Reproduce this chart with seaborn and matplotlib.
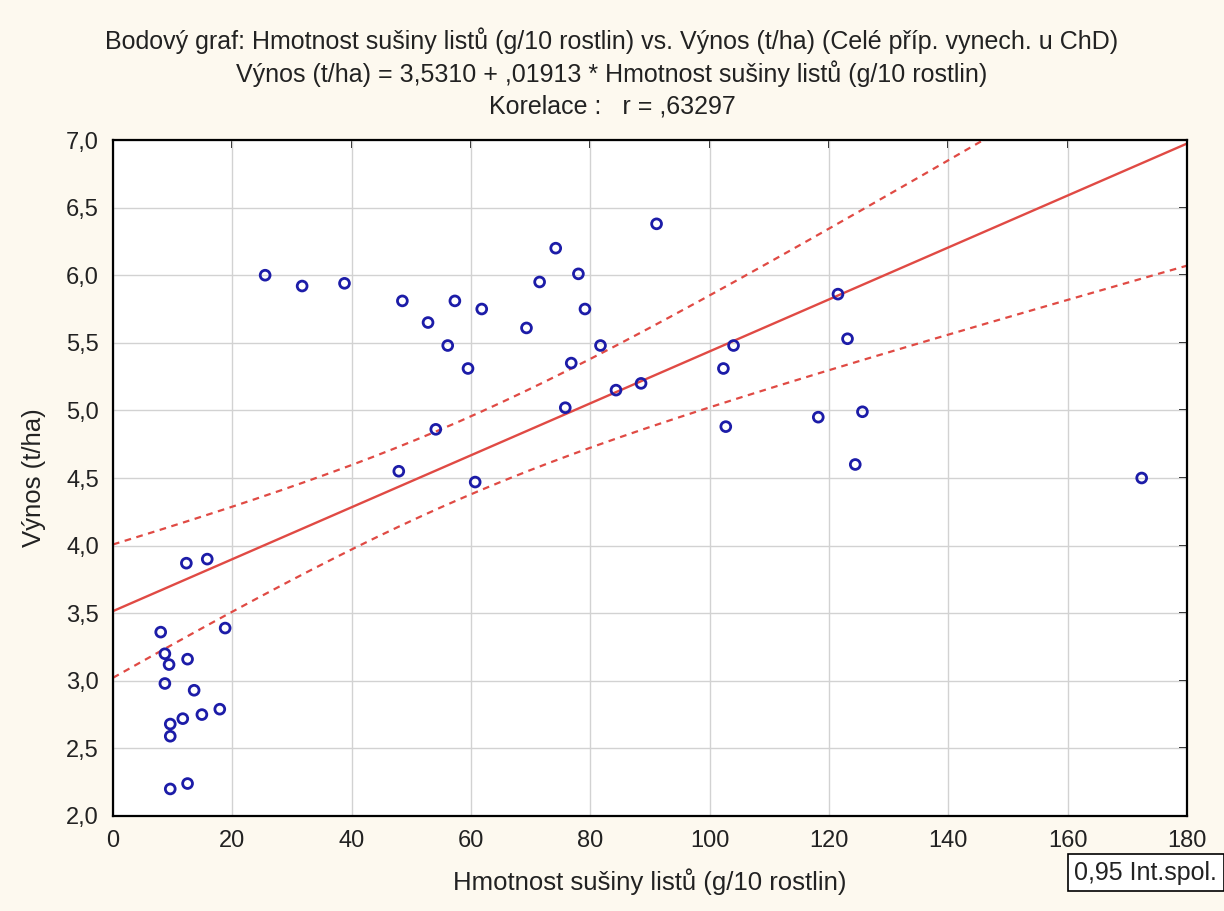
import numpy as np
import pandas as pd
import matplotlib
matplotlib.use("Agg")
import matplotlib.pyplot as plt
import seaborn as sns
from matplotlib.ticker import FuncFormatter

# Hmotnost sušiny listů (g/10 rostlin) a Výnos (t/ha)
hmotnost = [12.3, 15.8, 8.0, 18.8, 8.7, 9.4, 12.5, 8.7, 13.6, 9.6, 9.6, 11.7,
            14.9, 17.9, 9.6, 12.5,
            25.5, 31.7, 38.8, 48.5, 52.8, 57.3, 56.1, 61.8, 59.5, 74.2, 71.5,
            78.0, 79.1, 69.3, 91.1, 81.7, 76.8, 84.3, 88.5, 75.8, 54.1, 47.9,
            60.7,
            102.3, 102.7, 104.0, 121.5, 123.1, 118.2, 125.6, 124.4, 172.4]
vynos = [3.87, 3.90, 3.36, 3.39, 3.20, 3.12, 3.16, 2.98, 2.93, 2.68, 2.59, 2.72,
         2.75, 2.79, 2.20, 2.24,
         6.00, 5.92, 5.94, 5.81, 5.65, 5.81, 5.48, 5.75, 5.31, 6.20, 5.95,
         6.01, 5.75, 5.61, 6.38, 5.48, 5.35, 5.15, 5.20, 5.02, 4.86, 4.55,
         4.47,
         5.31, 4.88, 5.48, 5.86, 5.53, 4.95, 4.99, 4.60, 4.50]

x_ticks = [0, 20, 40, 60, 80, 100, 120, 140, 160, 180]
y_ticks = [2.0, 2.5, 3.0, 3.5, 4.0, 4.5, 5.0, 5.5, 6.0, 6.5, 7.0]

df = pd.DataFrame({"hmotnost": hmotnost, "vynos": vynos})

sns.set_theme(style="whitegrid")
plt.rcParams["font.family"] = ["Liberation Sans", "DejaVu Sans"]

txt = "#222222"
fig = plt.figure(figsize=(12.24, 9.11), dpi=100, facecolor="#fdf9ef")
ax = fig.add_axes([0.0923, 0.1043, 0.8775, 0.7420])
ax.set_facecolor("white")

# regresni primka + 0,95 interval spolehlivosti
n = len(df)
slope, intercept = np.polyfit(df.hmotnost, df.vynos, 1)
resid = df.vynos - (intercept + slope * df.hmotnost)
s = np.sqrt((resid ** 2).sum() / (n - 2))
xm = df.hmotnost.mean()
sxx = ((df.hmotnost - xm) ** 2).sum()
t = 2.0129
xs = np.linspace(0, 180, 200)
fit = intercept + slope * xs
se = s * np.sqrt(1 / n + (xs - xm) ** 2 / sxx)
red = "#e04a44"
ax.plot(xs, fit, color=red, lw=1.7, zorder=2)
ax.plot(xs, fit + t * se, color=red, lw=1.6, ls=(0, (3, 2.5)), zorder=2)
ax.plot(xs, fit - t * se, color=red, lw=1.6, ls=(0, (3, 2.5)), zorder=2)

sns.scatterplot(data=df, x="hmotnost", y="vynos", ax=ax, marker="o", s=50,
                facecolor="none", edgecolor="#1c1ca8", linewidth=2.0, zorder=3)

ax.set_xlim(0, 180)
ax.set_ylim(2.0, 7.0)
ax.set_xticks(x_ticks)
ax.set_yticks(y_ticks)
ax.xaxis.set_major_formatter(FuncFormatter(lambda v, p: f"{v:g}"))
ax.yaxis.set_major_formatter(FuncFormatter(lambda v, p: f"{v:.1f}".replace(".", ",")))
ax.grid(True, color="#d2d2d2", lw=1)
for sp in ax.spines.values():
    sp.set_color("black")
    sp.set_linewidth(1.6)
ax.tick_params(direction="out", length=6, width=1.3, color="black",
               labelsize=17, labelcolor=txt, pad=4)

top = ax.secondary_xaxis("top")
top.set_xticks(x_ticks)
top.tick_params(direction="in", length=6, width=1.3, color="black", labeltop=False)
right = ax.secondary_yaxis("right")
right.set_yticks(y_ticks)
right.tick_params(direction="in", length=6, width=1.3, color="black", labelright=False)

ax.set_xlabel("Hmotnost sušiny listů (g/10 rostlin)", fontsize=18.5, color=txt)
ax.set_ylabel("Výnos (t/ha)", fontsize=18.5, color=txt)
ax.xaxis.set_label_coords(0.5, -0.078)
ax.yaxis.set_label_coords(-0.062, 0.5)

fig.text(0.5, 0.955, "Bodový graf: Hmotnost sušiny listů (g/10 rostlin) vs. Výnos (t/ha) (Celé příp. vynech. u ChD)",
         ha="center", va="center", fontsize=18, color=txt)
fig.text(0.5, 0.919, "Výnos (t/ha) = 3,5310 + ,01913 * Hmotnost sušiny listů (g/10 rostlin)",
         ha="center", va="center", fontsize=18, color=txt)
fig.text(0.5, 0.883, "Korelace :   r = ,63297",
         ha="center", va="center", fontsize=18, color=txt)

fig.text(0.9945, 0.042, "0,95 Int.spol.", ha="right", va="center", fontsize=18, color=txt,
         bbox=dict(boxstyle="square,pad=0.25", facecolor="white", edgecolor="black", lw=1.2))

fig.savefig("out.png", dpi=100, facecolor=fig.get_facecolor())
